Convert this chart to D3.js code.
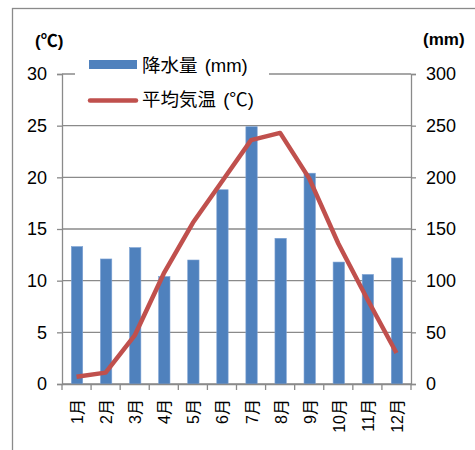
<!DOCTYPE html>
<html><head><meta charset="utf-8">
<script src="https://cdn.jsdelivr.net/npm/d3@7"></script>
<style>body{margin:0;background:#fff}svg{display:block}</style>
</head><body>
<script>
const months = ["1月","2月","3月","4月","5月","6月","7月","8月","9月","10月","11月","12月"];
const precipitation = [133,121,132,104,120,188,249,141,204,118,106,122];
const temperature = [0.7,1.1,4.7,10.7,15.6,19.6,23.6,24.3,19.9,13.6,8.2,3.0];
const leftTicks = [0,5,10,15,20,25,30];
const rightTicks = [0,50,100,150,200,250,300];
const legendLabels = ["降水量 (mm)","平均気温 (℃)"];

const W=475,H=450;
const svg=d3.select("body").append("svg").attr("width",W).attr("height",H);
const font="Arial, 'Liberation Sans', 'Noto Sans CJK JP', sans-serif";
const grey="#8a8a8a";
const L=62,R=411,T=74,B=384;

// outer border
svg.append("rect").attr("x",12.5).attr("y",8.5).attr("width",W).attr("height",H)
  .attr("fill","none").attr("stroke",grey).attr("stroke-width",1.3);

const x=d3.scaleBand().domain(months).range([L,R]);
const yL=d3.scaleLinear().domain([0,30]).range([B,T]);
const yR=d3.scaleLinear().domain([0,300]).range([B,T]);

// gridlines
svg.append("g").selectAll("line").data(leftTicks).join("line")
  .attr("x1",L).attr("x2",R).attr("y1",d=>yL(d)).attr("y2",d=>yL(d))
  .attr("stroke",grey).attr("stroke-width",1.3);

// bars
const bw=x.bandwidth()*0.39;
svg.append("g").selectAll("rect").data(precipitation).join("rect")
  .attr("x",(d,i)=>x(months[i])+x.bandwidth()/2-bw/2+0.5)
  .attr("y",d=>yR(d)).attr("width",bw).attr("height",d=>B-yR(d))
  .attr("fill","#4F81BD").attr("stroke","#7da2d4").attr("stroke-width",0.6);

// axes
const axL=svg.append("g").attr("transform",`translate(${L},0)`)
  .call(d3.axisLeft(yL).tickValues(leftTicks).tickSize(5).tickPadding(10));
const axR=svg.append("g").attr("transform",`translate(${R},0)`)
  .call(d3.axisRight(yR).tickValues(rightTicks).tickSize(5).tickPadding(10));
const axB=svg.append("g").attr("transform",`translate(0,${B})`)
  .call(d3.axisBottom(x).tickSize(0).tickFormat(""));
[axL,axR,axB].forEach(a=>{a.select(".domain").attr("stroke",grey).attr("stroke-width",1.3);
  a.selectAll(".tick line").attr("stroke",grey).attr("stroke-width",1.3);
  a.selectAll("text").attr("font-family",font).attr("font-size",18).attr("fill","#000");});
// category boundary ticks
const bounds=months.map(m=>x(m)).concat([R]);
svg.append("g").selectAll("line").data(bounds).join("line")
  .attr("x1",d=>d).attr("x2",d=>d).attr("y1",B).attr("y2",B+6)
  .attr("stroke",grey).attr("stroke-width",1.3);
// x labels
svg.append("g").selectAll("text").data(months).join("text")
  .attr("transform",d=>`translate(${x(d)+x.bandwidth()/2+1},${B+15}) rotate(-90)`)
  .attr("text-anchor","end").attr("dominant-baseline","central")
  .attr("font-family",font).attr("font-size",16).text(d=>d);

// line
svg.append("path").datum(temperature)
  .attr("d",d3.line().x((d,i)=>x(months[i])+x.bandwidth()/2).y(d=>yL(d)))
  .attr("fill","none").attr("stroke","#C0504D").attr("stroke-width",4.5)
  .attr("stroke-linejoin","round");

// axis titles
svg.append("text").attr("x",35).attr("y",47).attr("font-family",font).attr("font-weight","bold")
  .attr("font-size",17).text("(℃)");
svg.append("text").attr("x",423).attr("y",45).attr("font-family",font).attr("font-weight","bold")
  .attr("font-size",17).text("(mm)");

// legend
const lg=svg.append("g");
lg.append("rect").attr("x",75).attr("y",50).attr("width",194).attr("height",62).attr("fill","#fff");
lg.append("rect").attr("x",89).attr("y",60).attr("width",48).attr("height",9).attr("fill","#4F81BD");
lg.append("line").attr("x1",90).attr("x2",136).attr("y1",100.5).attr("y2",100.5)
  .attr("stroke","#C0504D").attr("stroke-width",4.5).attr("stroke-linecap","round");
lg.selectAll("text").data(legendLabels).join("text")
  .attr("x",142).attr("y",(d,i)=>72+i*34).attr("font-family",font).attr("font-size",18.5)
  .attr("word-spacing",2).text(d=>d);
</script>
</body></html>
